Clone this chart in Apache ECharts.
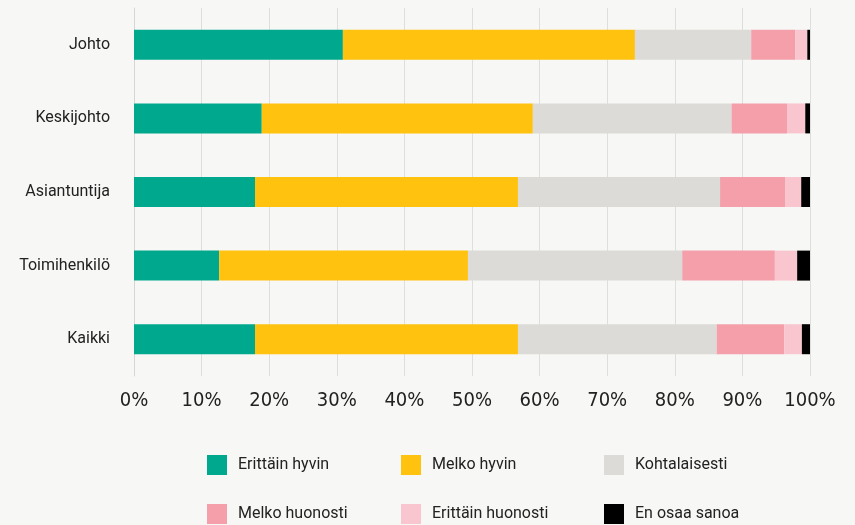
<!DOCTYPE html>
<html>
<head>
<meta charset="utf-8">
<script src="https://cdn.jsdelivr.net/npm/echarts@6/dist/echarts.min.js"></script>
<style>
	html, body { margin: 0; padding: 0; background: #f7f7f5; }
	#chart { width: 855px; height: 525px; }
</style>
</head>
<body>
<div id="chart"></div>
<script>
// ryhmät ylhäältä alas
var ryhmat = ['Johto', 'Keskijohto', 'Asiantuntija', 'Toimihenkilö', 'Kaikki'];
var sarjat = ['Erittäin hyvin', 'Melko hyvin', 'Kohtalaisesti', 'Melko huonosti', 'Erittäin huonosti', 'En osaa sanoa'];
var varit = ['#00a88e', '#ffc20e', '#dcdbd8', '#f49faa', '#f9c6d0', '#000000'];

var erittainHyvin = [30.9, 18.9, 17.9, 12.6, 17.9];
var melkoHyvin = [43.2, 40.1, 38.9, 36.8, 38.9];
var kohtalaisesti = [17.2, 29.4, 29.9, 31.7, 29.4];
var melkoHuonosti = [6.5, 8.2, 9.6, 13.7, 10.0];
var erittainHuonosti = [1.8, 2.7, 2.4, 3.3, 2.6];
var enOsaa = [0.4, 0.7, 1.3, 1.9, 1.2];

var arvot = [erittainHyvin, melkoHyvin, kohtalaisesti, melkoHuonosti, erittainHuonosti, enOsaa];
var fontti = "'Liberation Sans Narrow', 'DejaVu Sans Condensed', Roboto, sans-serif";

var series = sarjat.map(function(nimi, i) {
	return {
		name: nimi,
		type: 'bar',
		stack: 'yht',
		barWidth: 30,
		itemStyle: { color: varit[i] },
		data: arvot[i]
	};
});

// legenda: kolme saraketta, kaksi riviä
var sarakkeet = [207, 401, 604];
var rivit = [455, 504];
var legends = sarjat.map(function(nimi, k) {
	return {
		left: sarakkeet[k % 3],
		top: rivit[Math.floor(k / 3)],
		padding: 0,
		itemWidth: 20,
		itemHeight: 20,
		icon: 'rect',
		data: [nimi],
		textStyle: { fontFamily: 'Roboto', fontSize: 16, color: '#222', padding: [0, 0, 0, 6] }
	};
});

var myChart = echarts.init(document.getElementById('chart'));
myChart.setOption({
	backgroundColor: '#f7f7f5',
	animation: false,
	grid: { left: 134, right: 45, top: 8, bottom: 149 },
	legend: legends,
	xAxis: {
		type: 'value',
		min: 0,
		max: 100,
		interval: 10,
		axisLine: { show: false },
		axisTick: { show: false },
		splitLine: { lineStyle: { color: '#dededc', width: 1 } },
		axisLabel: { formatter: '{value}%', fontFamily: fontti, fontSize: 20, color: '#222', margin: 15 }
	},
	yAxis: {
		type: 'category',
		inverse: true,
		data: ryhmat,
		axisLine: { lineStyle: { color: '#d6d6d4' } },
		axisTick: { show: false },
		axisLabel: { fontFamily: 'Roboto', fontSize: 16, color: '#222', margin: 24 }
	},
	series: series
});
</script>
</body>
</html>
